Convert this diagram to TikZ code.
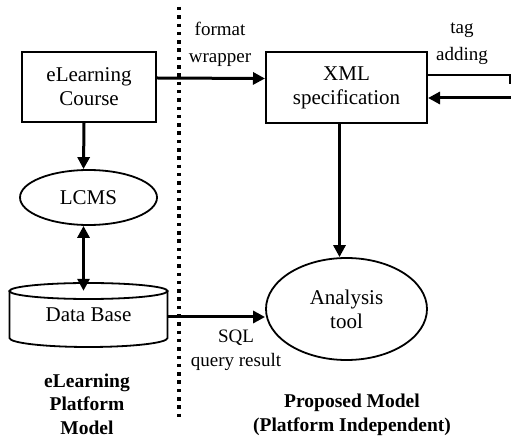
\documentclass[tikz,border=0pt]{standalone}
\usepackage{fontspec}
\setmainfont{Liberation Serif}
\usetikzlibrary{shapes.geometric,arrows.meta}
\begin{document}
\begin{tikzpicture}[x=1pt,y=1pt,
  mainfont/.style={font=\fontsize{21}{24}\selectfont},
  lblfont/.style={font=\fontsize{19}{27}\selectfont, align=center},
  boldlbl/.style={font=\fontsize{19.5}{23.5}\selectfont\bfseries, align=center},
  boxnode/.style={draw, line width=2pt, rectangle, inner sep=0pt, align=center, mainfont},
  ellnode/.style={draw, line width=1.8pt, ellipse, inner sep=0pt, align=center, mainfont},
  arr/.style={line width=3pt, -{Triangle[length=12pt,width=12pt]}},
  darr/.style={line width=3pt, {Triangle[length=12pt,width=12pt]}-{Triangle[length=12pt,width=12pt]}},
  thin/.style={line width=1.6pt},
  divider/.style={line width=4.5pt, dash pattern=on 3.5pt off 4.8pt}
]
\useasboundingbox (0,0) rectangle (511,439);

% nodes
\node[boxnode, minimum width=134pt, minimum height=70pt] (course) at (89,352) {eLearning\\Course};
\node[boxnode, minimum width=161pt, minimum height=71pt] (xml) at (346.5,351.5) {XML\\specification};
\node[ellnode, minimum width=137pt, minimum height=55pt] (lcms) at (88.5,241.5) {LCMS};
\node[ellnode, minimum width=161pt, minimum height=102pt] (analysis) at (346.5,130) {Analysis\\tool};
\node[rectangle, inner sep=0pt, minimum width=158pt, minimum height=64pt, mainfont] (db) at (88.5,124) {Data Base};

% cylinder outline for data base
\draw[line width=1.8pt] (88.5,148) ellipse [x radius=79pt, y radius=8pt];
\draw[line width=1.8pt] (9.5,148) -- (9.5,101) arc[start angle=180, end angle=360, x radius=79pt, y radius=9pt] -- (167.5,148);

% divider
\coordinate (divtop) at (179,432);
\coordinate (divbot) at (179,20);
\draw[divider] (divtop) -- (divbot);

% connectors
\draw[arr] ([xshift=-5pt]course.south) -- ([xshift=-5pt]lcms.north);
\draw[darr] ([xshift=-5pt]lcms.south) -- ([xshift=-5pt,yshift=-8pt]db.north);
\draw[arr] ([yshift=9pt]course.east) -- ([yshift=9pt]xml.west);
\draw[arr] ([xshift=-7pt]xml.south) -- ([xshift=-7pt]analysis.north);
\draw[arr] ([yshift=-2pt]db.east) -- ([yshift=-2pt]db.east -| analysis.west);

\coordinate (r1) at (510,364);
\coordinate (r1b) at (510,355);
\draw[thin] (r1 -| xml.east) -- (r1) -- (r1b);
\coordinate (r2) at (511,341);
\draw[arr] (r2) -- (r2 -| xml.east);

% labels
\node[lblfont] (fmt) at (220,395) {format\\wrapper};
\node[lblfont] (tag) at (462,395) {tag\\adding};
\node[lblfont, font=\fontsize{19}{24}\selectfont] (sql) at (236,89) {SQL\\query result};
\node[boldlbl] (leftlbl) at (87,35) {eLearning\\Platform\\Model};
\node[boldlbl] (rightlbl) at (352,24) {Proposed Model\\(Platform Independent)};
\end{tikzpicture}
\end{document}
